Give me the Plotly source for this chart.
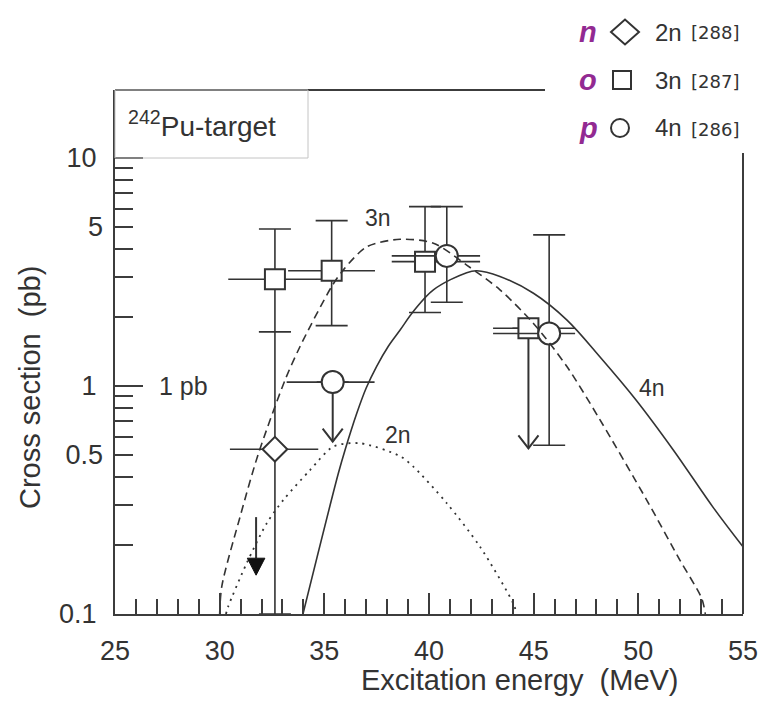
import plotly.graph_objects as go

# ---------------- data ----------------
# 3n evaporation channel (squares)
sq_x = [32.64, 35.35, 39.81, 44.75]
sq_y = [2.94, 3.20, 3.51, 1.79]
sq_xm = [2.23, 2.08, 1.59, 1.69]
sq_xp = [2.30, 2.07, 2.63, 2.23]
sq_yp = [1.94, 2.11, 2.61, 0.0]
sq_ym = [1.21, 1.36, 1.41, 0.0]

# 4n evaporation channel (circles)
ci_x = [35.40, 40.85, 45.74]
ci_y = [1.04, 3.72, 1.70]
ci_xm = [2.20, 2.63, 2.68]
ci_xp = [2.00, 1.59, 1.24]
ci_yp = [0.0, 2.40, 2.90]
ci_ym = [0.0, 1.39, 1.15]

# 2n evaporation channel (diamond)
di_x = [32.64]
di_y = [0.528]
di_xm = [2.15]
di_xp = [2.07]
di_yp = [1.20]
di_ym = [0.428]

# upper limits drawn with open arrows
ul_x = [35.40, 44.75]
ul_from = [1.04, 1.79]
ul_to = [0.570, 0.533]

# upper limit drawn with a filled arrow
fa_x = [31.74]
fa_from = [0.266]
fa_to = [0.148]

# calculated excitation functions
c3n_x = [30.0, 30.10, 30.97, 31.83, 33.12, 33.84, 35.35, 35.91, 37.03, 38.62, 40.21,
         41.80, 43.39, 44.99, 46.58, 48.17, 50.40, 51.99, 53.03, 53.2]
c3n_y = [0.10, 0.132, 0.266, 0.498, 1.06, 1.49, 2.73, 3.23, 4.08, 4.40, 4.23,
         3.39, 2.64, 1.88, 1.22, 0.71, 0.316, 0.172, 0.117, 0.10]

c4n_x = [33.98, 35.67, 35.99, 36.55, 37.00, 37.50, 38.05, 38.62, 39.25, 40.21, 41.80,
         42.28, 43.39, 44.99, 46.58, 48.17, 49.89, 51.67, 53.59, 55.0]
c4n_y = [0.10, 0.414, 0.524, 0.759, 0.98, 1.22, 1.49, 1.76, 2.12, 2.64, 3.14,
         3.20, 3.02, 2.55, 1.95, 1.34, 0.868, 0.524, 0.292, 0.197]

c2n_x = [30.30, 30.41, 31.29, 32.25, 33.04, 34.32, 35.43, 36.71, 38.62, 39.25,
         40.85, 42.44, 44.03, 44.19]
c2n_y = [0.10, 0.108, 0.167, 0.250, 0.316, 0.428, 0.542, 0.561, 0.492, 0.443,
         0.306, 0.197, 0.111, 0.10]

x_ticks = [25, 30, 35, 40, 45, 50, 55]
y_major = [0.1, 1, 10]
y_major_text = ["0.1", "1", "10"]
y_half = [0.5, 5]
y_half_text = ["0.5", "5"]
y_minor = [0.2, 0.3, 0.4, 0.5, 0.6, 0.7, 0.8, 0.9, 2, 3, 4, 5, 6, 7, 8, 9]

legend_keys = ["n", "o", "p"]
legend_labels = ["2n", "3n", "4n"]
legend_refs = ["[288]", "[287]", "[286]"]

# ---------------- styling ----------------
FONT = "Liberation Sans, Arial, sans-serif"
INK = "#333333"
AX = "#3c3c3c"
PURPLE = "#922a92"

W, H = 765, 705
L, R, T, B = 115, 22, 90, 91
PW, PH = W - L - R, H - T - B
YMAX_LOG = 1.298


def px(xp):
    return (xp - L) / PW


def py(yp):
    return (H - B - yp) / PH


fig = go.Figure()

# open upper-limit arrows
ax_, ay_ = [], []
for x, y0, y1 in zip(ul_x, ul_from, ul_to):
    ax_ += [x, x, None, x - 0.48, x, x + 0.48, None]
    ay_ += [y0, y1, None, y1 * 1.14, y1, y1 * 1.14, None]
fig.add_trace(go.Scatter(x=ax_, y=ay_, mode="lines",
                         line=dict(color=INK, width=2), hoverinfo="skip", showlegend=False))

# filled arrow
for x, y0, y1 in zip(fa_x, fa_from, fa_to):
    top = y1 * 1.187
    fig.add_trace(go.Scatter(x=[x, x], y=[y0, top], mode="lines",
                             line=dict(color=INK, width=2), hoverinfo="skip", showlegend=False))
    fig.add_trace(go.Scatter(x=[x - 0.42, x + 0.42, x, x - 0.42], y=[top, top, y1, top],
                             mode="lines", fill="toself", fillcolor="#111111",
                             line=dict(color="#111111", width=1), hoverinfo="skip",
                             showlegend=False))


def pts(x, y, xm, xp, ym, yp, symbol, size):
    return go.Scatter(
        x=x, y=y, mode="markers",
        marker=dict(symbol=symbol, size=size, color="white", line=dict(color=INK, width=2)),
        error_x=dict(type="data", symmetric=False, array=xp, arrayminus=xm,
                     color=INK, thickness=1.6, width=0),
        error_y=dict(type="data", symmetric=False, array=yp, arrayminus=ym,
                     color=INK, thickness=1.6, width=16),
        showlegend=False, hoverinfo="skip")


fig.add_trace(pts(di_x, di_y, di_xm, di_xp, di_ym, di_yp, "diamond", 19))
fig.add_trace(pts(sq_x, sq_y, sq_xm, sq_xp, sq_ym, sq_yp, "square", 20))
fig.add_trace(pts(ci_x, ci_y, ci_xm, ci_xp, ci_ym, ci_yp, "circle", 22))

# curves (on overlay axis, drawn on top)
fig.add_trace(go.Scatter(x=c3n_x, y=c3n_y, mode="lines", yaxis="y2",
                         line=dict(color=INK, width=1.6, dash="8px,5px", shape="spline",
                                   smoothing=0.8),
                         hoverinfo="skip", showlegend=False))
fig.add_trace(go.Scatter(x=c4n_x, y=c4n_y, mode="lines", yaxis="y2",
                         line=dict(color=INK, width=1.6, shape="spline", smoothing=1.0),
                         hoverinfo="skip", showlegend=False))
fig.add_trace(go.Scatter(x=c2n_x, y=c2n_y, mode="lines", yaxis="y2",
                         line=dict(color=INK, width=1.8, dash="2px,5px", shape="spline",
                                   smoothing=0.8),
                         hoverinfo="skip", showlegend=False))

tickfont = dict(family=FONT, size=27, color=INK)

fig.update_layout(
    width=W, height=H,
    margin=dict(l=L, r=R, t=T, b=B),
    paper_bgcolor="white", plot_bgcolor="white",
    font=dict(family=FONT, color=INK),
    xaxis=dict(range=[25, 55], tickmode="array", tickvals=x_ticks,
               ticks="inside", ticklen=21, tickwidth=2, tickcolor=AX,
               minor=dict(dtick=1, tick0=25, ticks="inside", ticklen=15,
                          tickwidth=2, tickcolor=AX),
               showline=True, linewidth=2, linecolor=AX, showgrid=False,
               zeroline=False, tickfont=tickfont, ticklabelstandoff=12,
               automargin=False),
    yaxis=dict(type="log", range=[-1, YMAX_LOG], tickmode="array",
               tickvals=y_major, ticktext=y_major_text,
               ticks="inside", ticklen=28, tickwidth=2, tickcolor=AX,
               minor=dict(tickmode="array", tickvals=y_minor, ticks="inside",
                          ticklen=18, tickwidth=2, tickcolor=AX),
               showline=True, linewidth=2, linecolor=AX, showgrid=False,
               zeroline=False, tickfont=tickfont, ticklabelstandoff=11,
               automargin=False),
    yaxis2=dict(type="log", range=[-1, YMAX_LOG], overlaying="y", side="left",
                tickmode="array", tickvals=y_half, ticktext=y_half_text,
                ticks="", showline=False, showgrid=False, zeroline=False,
                tickfont=tickfont, ticklabelstandoff=11, automargin=False),
)

shapes = []
# top frame line (partial) and right frame line (partial)
shapes.append(dict(type="line", xref="paper", yref="paper", x0=px(115), x1=px(545),
                   y0=py(90), y1=py(90), line=dict(color=AX, width=2)))
shapes.append(dict(type="line", xref="paper", yref="paper", x0=px(743), x1=px(743),
                   y0=py(153), y1=py(614), line=dict(color=AX, width=2)))
# target label box
shapes.append(dict(type="rect", xref="paper", yref="paper", x0=px(115), x1=px(308),
                   y0=py(158), y1=py(90), line=dict(color="#c4c4c4", width=1)))

# legend symbols
lg_y = [32, 80, 128]
sym_x = [625, 622, 620]
# diamond
cx, cy = sym_x[0], lg_y[0]
shapes.append(dict(type="path", xref="paper", yref="paper",
                   path=f"M {px(cx-14)} {py(cy)} L {px(cx)} {py(cy-12.5)} L {px(cx+14)} {py(cy)} L {px(cx)} {py(cy+12.5)} Z",
                   line=dict(color=INK, width=2), fillcolor="white"))
# square
cx, cy = sym_x[1], lg_y[1]
shapes.append(dict(type="rect", xref="paper", yref="paper", x0=px(cx-9), x1=px(cx+9),
                   y0=py(cy+9), y1=py(cy-9), line=dict(color=INK, width=2), fillcolor="white"))
# circle
cx, cy = sym_x[2], lg_y[2]
shapes.append(dict(type="circle", xref="paper", yref="paper", x0=px(cx-9), x1=px(cx+9),
                   y0=py(cy+9), y1=py(cy-9), line=dict(color=INK, width=2), fillcolor="white"))
fig.update_layout(shapes=shapes)

ann = []
# axis titles
ann.append(dict(text="Excitation energy  (MeV)", xref="paper", yref="paper",
                x=px(520), y=py(680), xanchor="center", yanchor="middle", showarrow=False,
                font=dict(family=FONT, size=29, color=INK)))
ann.append(dict(text="Cross section  (pb)", xref="paper", yref="paper",
                x=px(30), y=py(388), xanchor="center", yanchor="middle", showarrow=False,
                textangle=-90, font=dict(family=FONT, size=29, color=INK)))
# target label
ann.append(dict(text="<sup>242</sup>Pu-target", xref="paper", yref="paper",
                x=px(126), y=py(124), xanchor="left", yanchor="middle", showarrow=False,
                font=dict(family=FONT, size=28, color=INK)))
# curve labels
ann.append(dict(text="3n", x=37.57, y=0.7355, xref="x", yref="y", showarrow=False,
                font=dict(family=FONT, size=23, color=INK)))
ann.append(dict(text="2n", x=38.53, y=-0.215, xref="x", yref="y", showarrow=False,
                font=dict(family=FONT, size=23, color=INK)))
ann.append(dict(text="4n", x=50.64, y=-0.010, xref="x", yref="y", showarrow=False,
                font=dict(family=FONT, size=23, color=INK)))
ann.append(dict(text="1 pb", x=27.0, y=0.0, xref="x", yref="y", xanchor="left",
                showarrow=False, font=dict(family=FONT, size=25, color=INK)))
# legend texts
for key, lab, ref, yy in zip(legend_keys, legend_labels, legend_refs, lg_y):
    ann.append(dict(text=f"<b><i>{key}</i></b>", xref="paper", yref="paper",
                    x=px(588), y=py(yy), xanchor="center", yanchor="middle", showarrow=False,
                    font=dict(family=FONT, size=29, color=PURPLE)))
    ann.append(dict(text=lab, xref="paper", yref="paper",
                    x=px(653), y=py(yy), xanchor="left", yanchor="middle", showarrow=False,
                    font=dict(family=FONT, size=24, color=INK)))
    ann.append(dict(text=ref, xref="paper", yref="paper",
                    x=px(689), y=py(yy + 1), xanchor="left", yanchor="middle", showarrow=False,
                    font=dict(family="DejaVu Sans, sans-serif", size=18, color=INK)))
fig.update_layout(annotations=ann)

fig.write_html("out.html",
               config={"displayModeBar": False},
               post_script="document.body.style.margin='0px';document.body.style.padding='0px';")
